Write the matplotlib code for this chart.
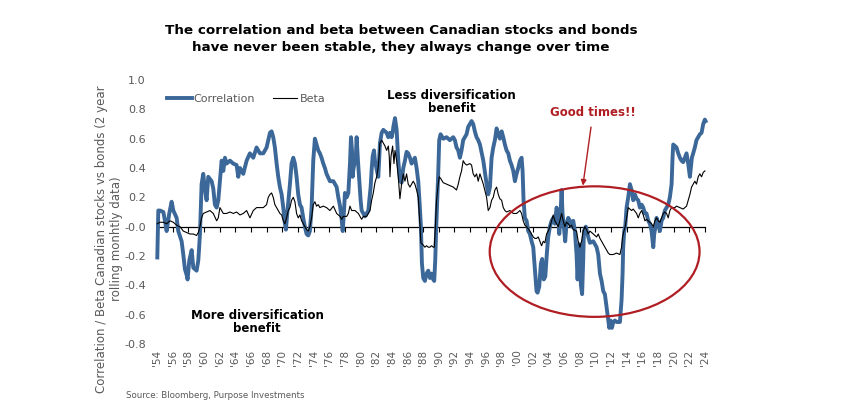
import numpy as np
import matplotlib
matplotlib.use("Agg")
import matplotlib.pyplot as plt
from matplotlib.patches import Ellipse
from matplotlib.lines import Line2D

plt.rcParams['font.family'] = ['DejaVu Sans']

# rolling 2y correlation
corr_year = [
    1954.04, 1954.17, 1954.38, 1954.81, 1955.02, 1955.23, 1955.57, 1955.87, 1956.09, 1956.51,
    1956.72, 1957.15, 1957.36, 1957.57, 1957.79, 1957.91, 1958.13, 1958.43, 1958.64, 1959.06,
    1959.28, 1959.49, 1959.70, 1959.91, 1960.13, 1960.34, 1960.55, 1960.98, 1961.19, 1961.40,
    1961.62, 1961.83, 1962.04, 1962.26, 1962.47, 1962.68, 1962.89, 1963.32, 1963.74, 1964.17,
    1964.38, 1964.60, 1965.02, 1965.45, 1965.87, 1966.30, 1966.72, 1967.15, 1967.58, 1968.00,
    1968.43, 1968.64, 1968.85, 1969.06, 1969.28, 1969.49, 1969.70, 1969.92, 1970.13, 1970.34,
    1970.47, 1970.64, 1970.98, 1971.19, 1971.41, 1971.62, 1971.83, 1972.04, 1972.26, 1972.47,
    1972.68, 1972.89, 1973.11, 1973.32, 1973.53, 1973.75, 1973.96, 1974.17, 1974.38, 1974.60,
    1974.81, 1975.02, 1975.24, 1975.45, 1975.66, 1976.09, 1976.53, 1976.95, 1977.16, 1977.38,
    1977.59, 1977.72, 1977.89, 1978.01, 1978.23, 1978.44, 1978.65, 1978.78, 1978.91, 1978.99,
    1979.08, 1979.29, 1979.42, 1979.50, 1979.67, 1979.84, 1980.01, 1980.14, 1980.36, 1980.57,
    1980.78, 1981.00, 1981.12, 1981.29, 1981.42, 1981.55, 1981.72, 1981.84, 1982.06, 1982.27,
    1982.48, 1982.70, 1982.91, 1983.33, 1983.55, 1983.76, 1983.97, 1984.10, 1984.19, 1984.40,
    1984.61, 1984.82, 1985.03, 1985.24, 1985.46, 1985.67, 1985.88, 1986.09, 1986.31, 1986.52,
    1986.73, 1986.94, 1987.16, 1987.37, 1987.58, 1987.71, 1987.84, 1988.01, 1988.22, 1988.43,
    1988.65, 1988.86, 1989.07, 1989.29, 1989.41, 1989.54, 1989.67, 1989.80, 1989.92, 1990.05,
    1990.22, 1990.56, 1990.99, 1991.41, 1991.63, 1991.84, 1992.05, 1992.26, 1992.48, 1992.69,
    1992.90, 1993.11, 1993.33, 1993.54, 1993.75, 1993.97, 1994.18, 1994.39, 1994.60, 1994.82,
    1995.03, 1995.25, 1995.68, 1996.10, 1996.31, 1996.53, 1996.74, 1996.95, 1997.16, 1997.38,
    1997.59, 1997.80, 1998.02, 1998.23, 1998.44, 1998.65, 1998.87, 1999.08, 1999.29, 1999.51,
    1999.72, 1999.93, 2000.14, 2000.36, 2000.57, 2000.70, 2000.82, 2000.99, 2001.21, 2001.42,
    2001.63, 2001.85, 2002.06, 2002.19, 2002.36, 2002.48, 2002.61, 2002.82, 2003.04, 2003.20,
    2003.40, 2003.60, 2003.80, 2003.97, 2004.19, 2004.40, 2004.61, 2004.82, 2005.04, 2005.25,
    2005.38, 2005.51, 2005.68, 2005.80, 2005.97, 2006.14, 2006.31, 2006.53, 2006.74, 2006.95,
    2007.17, 2007.38, 2007.59, 2007.72, 2007.85, 2007.98, 2008.15, 2008.30, 2008.44, 2008.53,
    2008.78, 2009.08, 2009.30, 2009.73, 2010.15, 2010.36, 2010.58, 2010.79, 2011.00, 2011.21,
    2011.43, 2011.64, 2011.77, 2011.94, 2012.11, 2012.28, 2012.49, 2012.70, 2012.92, 2013.13,
    2013.34, 2013.47, 2013.55, 2013.68, 2013.81, 2013.98, 2014.19, 2014.41, 2014.62, 2014.83,
    2015.04, 2015.26, 2015.47, 2015.68, 2015.90, 2016.11, 2016.32, 2016.53, 2016.75, 2016.96,
    2017.17, 2017.39, 2017.51, 2017.68, 2017.81, 2018.02, 2018.24, 2018.45, 2018.66, 2018.87,
    2019.09, 2019.30, 2019.51, 2019.73, 2019.85, 2019.94, 2020.15, 2020.36, 2020.58, 2020.79,
    2021.00, 2021.21, 2021.43, 2021.64, 2021.85, 2022.07, 2022.19, 2022.32, 2022.49, 2022.70,
    2022.91, 2023.13, 2023.34, 2023.56, 2023.77, 2023.98, 2024.07,
]
corr_value = [
    -0.21, 0.11, 0.11, 0.10, 0.04, -0.03, 0.09, 0.17, 0.11, 0.06,
    -0.03, -0.10, -0.19, -0.29, -0.33, -0.36, -0.23, -0.16, -0.28, -0.30,
    -0.23, -0.05, 0.29, 0.36, 0.25, 0.18, 0.34, 0.31, 0.26, 0.15,
    0.13, 0.18, 0.31, 0.45, 0.38, 0.47, 0.43, 0.45, 0.43, 0.42,
    0.34, 0.40, 0.36, 0.45, 0.50, 0.47, 0.54, 0.50, 0.50, 0.54,
    0.64, 0.65, 0.61, 0.54, 0.43, 0.34, 0.27, 0.22, 0.13, 0.02,
    -0.02, 0.09, 0.29, 0.43, 0.47, 0.43, 0.34, 0.22, 0.15, 0.13,
    0.06, 0.00, -0.05, -0.06, -0.03, 0.13, 0.45, 0.60, 0.56, 0.52,
    0.50, 0.47, 0.43, 0.40, 0.36, 0.31, 0.31, 0.27, 0.20, 0.14,
    0.05, -0.03, 0.11, 0.23, 0.20, 0.23, 0.43, 0.61, 0.52, 0.34,
    0.39, 0.45, 0.50, 0.61, 0.45, 0.32, 0.18, 0.11, 0.09, 0.07,
    0.09, 0.11, 0.18, 0.27, 0.39, 0.48, 0.52, 0.45, 0.39, 0.34,
    0.57, 0.64, 0.66, 0.64, 0.61, 0.64, 0.61, 0.64, 0.68, 0.74,
    0.66, 0.45, 0.32, 0.30, 0.40, 0.45, 0.51, 0.50, 0.47, 0.43,
    0.45, 0.47, 0.40, 0.31, 0.13, 0.00, -0.25, -0.35, -0.37, -0.32,
    -0.30, -0.35, -0.32, -0.36, -0.37, -0.23, 0.00, 0.18, 0.36, 0.59,
    0.63, 0.60, 0.61, 0.59, 0.60, 0.61, 0.59, 0.54, 0.52, 0.47,
    0.52, 0.59, 0.61, 0.63, 0.68, 0.70, 0.72, 0.70, 0.65, 0.61,
    0.59, 0.56, 0.45, 0.29, 0.22, 0.27, 0.47, 0.54, 0.59, 0.67,
    0.63, 0.60, 0.65, 0.61, 0.56, 0.52, 0.50, 0.45, 0.42, 0.38,
    0.31, 0.36, 0.40, 0.45, 0.47, 0.38, 0.18, 0.06, 0.04, -0.03,
    -0.05, -0.10, -0.14, -0.23, -0.35, -0.44, -0.45, -0.41, -0.25, -0.22,
    -0.36, -0.34, -0.18, -0.07, 0.00, 0.04, 0.06, 0.02, 0.13, 0.09,
    -0.05, 0.04, 0.25, 0.09, 0.00, -0.10, 0.02, 0.06, 0.04, 0.00,
    0.04, -0.03, -0.19, -0.36, -0.20, -0.12, -0.40, -0.46, -0.23, -0.03,
    0.00, -0.07, -0.11, -0.10, -0.14, -0.19, -0.32, -0.37, -0.44, -0.46,
    -0.55, -0.64, -0.69, -0.64, -0.69, -0.65, -0.64, -0.65, -0.65, -0.65,
    -0.50, -0.32, -0.14, -0.03, 0.00, 0.13, 0.20, 0.29, 0.25, 0.18,
    0.22, 0.19, 0.18, 0.13, 0.15, 0.13, 0.09, 0.09, 0.04, 0.02,
    -0.03, -0.14, -0.05, 0.00, 0.06, 0.02, -0.03, 0.04, 0.06, 0.11,
    0.13, 0.15, 0.20, 0.29, 0.47, 0.56, 0.55, 0.54, 0.50, 0.47,
    0.45, 0.44, 0.47, 0.50, 0.43, 0.34, 0.40, 0.47, 0.50, 0.54,
    0.59, 0.61, 0.63, 0.64, 0.70, 0.73, 0.72,
]

# rolling 2y beta
beta_year = [
    1954.04, 1954.38, 1954.81, 1955.23, 1955.66, 1956.09, 1956.51, 1956.94, 1957.36, 1957.79,
    1958.21, 1958.64, 1959.06, 1959.28, 1959.49, 1959.70, 1959.91, 1960.34, 1960.77, 1961.19,
    1961.62, 1961.83, 1962.04, 1962.26, 1962.47, 1962.89, 1963.32, 1963.74, 1964.17, 1964.60,
    1965.02, 1965.45, 1965.87, 1966.30, 1966.72, 1967.15, 1967.58, 1968.00, 1968.21, 1968.43,
    1968.64, 1968.85, 1969.06, 1969.28, 1969.49, 1969.70, 1969.92, 1970.13, 1970.34, 1970.55,
    1970.77, 1970.98, 1971.19, 1971.41, 1971.62, 1971.83, 1972.04, 1972.26, 1972.47, 1972.68,
    1972.89, 1973.11, 1973.32, 1973.53, 1973.75, 1973.96, 1974.17, 1974.38, 1974.60, 1974.81,
    1975.24, 1975.66, 1976.09, 1976.53, 1976.95, 1977.38, 1977.59, 1977.80, 1978.23, 1978.44,
    1978.65, 1978.87, 1979.29, 1979.72, 1980.14, 1980.36, 1980.78, 1981.21, 1981.42, 1981.63,
    1981.84, 1982.06, 1982.27, 1982.48, 1982.70, 1982.91, 1983.12, 1983.33, 1983.55, 1983.67,
    1983.76, 1983.89, 1984.10, 1984.27, 1984.40, 1984.61, 1984.82, 1985.03, 1985.24, 1985.46,
    1985.67, 1985.88, 1986.09, 1986.31, 1986.52, 1986.73, 1986.94, 1987.16, 1987.37, 1987.58,
    1987.71, 1987.92, 1988.22, 1988.43, 1988.65, 1988.86, 1989.07, 1989.29, 1989.41, 1989.54,
    1989.71, 1989.92, 1990.05, 1990.22, 1990.56, 1990.99, 1991.41, 1991.84, 1992.05, 1992.26,
    1992.48, 1992.69, 1992.90, 1993.11, 1993.33, 1993.54, 1993.97, 1994.18, 1994.39, 1994.60,
    1994.82, 1995.03, 1995.25, 1995.68, 1996.10, 1996.31, 1996.53, 1996.74, 1996.95, 1997.16,
    1997.38, 1997.59, 1997.80, 1998.02, 1998.23, 1998.44, 1998.65, 1999.08, 1999.51, 1999.93,
    2000.36, 2000.57, 2000.78, 2000.99, 2001.21, 2001.63, 2001.85, 2002.06, 2002.27, 2002.48,
    2002.70, 2002.91, 2003.12, 2003.34, 2003.55, 2003.76, 2003.97, 2004.19, 2004.40, 2004.61,
    2004.82, 2005.04, 2005.25, 2005.46, 2005.68, 2005.89, 2006.10, 2006.31, 2006.53, 2006.74,
    2006.95, 2007.17, 2007.59, 2007.80, 2008.02, 2008.23, 2008.44, 2008.65, 2008.87, 2009.08,
    2009.30, 2009.73, 2010.15, 2010.36, 2010.58, 2010.79, 2011.00, 2011.21, 2011.43, 2011.64,
    2011.85, 2012.28, 2012.70, 2013.13, 2013.34, 2013.47, 2013.64, 2013.81, 2013.98, 2014.19,
    2014.41, 2014.62, 2014.83, 2015.26, 2015.47, 2015.68, 2015.90, 2016.11, 2016.32, 2016.53,
    2016.96, 2017.17, 2017.39, 2017.60, 2017.81, 2018.02, 2018.24, 2018.45, 2018.66, 2018.87,
    2019.09, 2019.30, 2019.51, 2019.73, 2020.15, 2020.36, 2020.79, 2021.21, 2021.43, 2021.64,
    2021.85, 2022.07, 2022.28, 2022.49, 2022.70, 2022.91, 2023.13, 2023.34, 2023.56, 2023.77,
    2023.98,
]
beta_value = [
    0.02, 0.03, 0.03, 0.02, 0.04, 0.03, 0.01, 0.00, -0.03, -0.04,
    -0.05, -0.05, -0.06, -0.04, 0.00, 0.06, 0.09, 0.10, 0.11, 0.09,
    0.04, 0.06, 0.13, 0.11, 0.09, 0.09, 0.10, 0.09, 0.10, 0.08,
    0.09, 0.11, 0.06, 0.11, 0.13, 0.13, 0.13, 0.15, 0.20, 0.22,
    0.23, 0.20, 0.15, 0.13, 0.11, 0.09, 0.08, 0.04, 0.02, 0.06,
    0.11, 0.13, 0.18, 0.20, 0.17, 0.09, 0.06, 0.08, 0.04, 0.02,
    0.00, -0.02, -0.03, 0.00, 0.06, 0.15, 0.17, 0.14, 0.15, 0.13,
    0.14, 0.13, 0.11, 0.14, 0.09, 0.07, 0.05, 0.07, 0.07, 0.09,
    0.14, 0.11, 0.11, 0.09, 0.05, 0.07, 0.07, 0.11, 0.18, 0.23,
    0.30, 0.34, 0.41, 0.57, 0.59, 0.57, 0.55, 0.52, 0.55, 0.48,
    0.34, 0.48, 0.55, 0.43, 0.52, 0.45, 0.34, 0.19, 0.29, 0.36,
    0.31, 0.36, 0.29, 0.27, 0.29, 0.31, 0.29, 0.25, 0.20, 0.02,
    -0.11, -0.12, -0.14, -0.13, -0.14, -0.14, -0.13, -0.14, -0.14, -0.02,
    0.18, 0.29, 0.34, 0.33, 0.30, 0.29, 0.28, 0.27, 0.26, 0.25,
    0.29, 0.34, 0.38, 0.45, 0.43, 0.42, 0.43, 0.42, 0.36, 0.34,
    0.36, 0.31, 0.36, 0.29, 0.20, 0.11, 0.13, 0.18, 0.20, 0.25,
    0.27, 0.22, 0.19, 0.18, 0.13, 0.11, 0.10, 0.11, 0.09, 0.09,
    0.11, 0.09, 0.04, 0.01, 0.00, -0.03, -0.05, -0.07, -0.08, -0.08,
    -0.07, -0.10, -0.13, -0.10, -0.11, -0.05, -0.03, 0.00, 0.04, 0.08,
    0.04, 0.02, 0.00, 0.04, 0.09, 0.04, 0.00, 0.03, 0.02, 0.00,
    0.01, -0.02, -0.03, -0.10, -0.14, -0.10, -0.03, 0.00, -0.02, -0.05,
    -0.03, -0.05, -0.07, -0.05, -0.08, -0.10, -0.12, -0.14, -0.16, -0.18,
    -0.19, -0.19, -0.18, -0.19, -0.14, -0.07, -0.03, 0.00, 0.06, 0.13,
    0.12, 0.11, 0.12, 0.09, 0.06, 0.09, 0.11, 0.08, 0.04, 0.05,
    0.03, 0.02, 0.00, 0.04, 0.06, 0.04, 0.03, 0.06, 0.09, 0.10,
    0.09, 0.06, 0.11, 0.13, 0.13, 0.14, 0.13, 0.12, 0.13, 0.14,
    0.18, 0.22, 0.27, 0.29, 0.31, 0.29, 0.34, 0.36, 0.34, 0.37,
    0.38,
]

tick_years = list(range(1954, 2025, 2))
tick_labels = ["'%02d" % (y % 100) for y in tick_years]

W, H = 852, 409
BLUE = '#3b6898'
RED = '#b01e23'
GREY = '#595959'

fig = plt.figure(figsize=(W / 100, H / 100), dpi=100)
# axes placed in pixel terms: left 151.5, right 710.5, top 80, bottom 344
ax = fig.add_axes([151.5 / W, (H - 344) / H, 559 / W, 264 / H])
ax.set_xlim(1953.3, 2024.7)
ax.set_ylim(-0.8, 1.0)

ax.plot(corr_year, corr_value, color=BLUE, lw=2.8, solid_joinstyle='round', label='Correlation', zorder=2)
ax.plot(beta_year, beta_value, color='black', lw=0.8, label='Beta', zorder=3)

for s in ax.spines.values():
    s.set_visible(False)

ax.set_yticks(np.arange(-0.8, 1.01, 0.2))
ax.set_yticklabels(['%.1f' % v for v in np.arange(-0.8, 1.01, 0.2)])
ax.tick_params(axis='y', length=0, pad=4, labelsize=8, labelcolor=GREY)
ax.set_xticks(tick_years)
ax.set_xticklabels(tick_labels, rotation=90)
ax.tick_params(axis='x', length=0, pad=4, labelsize=7.5, labelcolor=GREY)

# zero line with the tick marks, labels stay at the bottom
zero_pos = 0.8 / 1.8
sec = ax.secondary_xaxis(zero_pos)
sec.set_xticks(tick_years)
sec.tick_params(axis='x', direction='out', length=3.5, width=0.8, labelbottom=False, labeltop=False)
sec.spines['bottom'].set_bounds(1954, 2024)
sec.spines['bottom'].set_linewidth(0.9)

ell = Ellipse((2009.9, -0.17), 26.8, 0.89, fill=False, edgecolor=RED, lw=1.6, zorder=4)
ax.add_patch(ell)

ax.annotate('Good times!!', xy=(2008.4, 0.28), xytext=(2009.7, 0.78),
            ha='center', va='center', fontsize=8.5, fontweight='bold', color=RED,
            arrowprops=dict(arrowstyle='-|>', color=RED, lw=1.0, mutation_scale=8,
                            shrinkA=4, shrinkB=0))

ax.text(1991.6, 0.85, 'Less diversification\nbenefit', ha='center', va='center',
        fontsize=8.5, fontweight='bold', linespacing=1.0)
ax.text(1966.8, -0.65, 'More diversification\nbenefit', ha='center', va='center',
        fontsize=8.5, fontweight='bold', linespacing=1.0)

handles = [Line2D([], [], color=BLUE, lw=2.8), Line2D([], [], color='black', lw=0.8)]
ax.legend(handles, ['Correlation', 'Beta'], loc='upper left', bbox_to_anchor=(0.01, 0.985),
          ncol=2, frameon=False, fontsize=8, labelcolor=GREY, handlelength=2.2,
          handletextpad=0.2, columnspacing=1.6)

fig.text(401 / W, 1 - 39 / H,
         'The correlation and beta between Canadian stocks and bonds\nhave never been stable, they always change over time',
         ha='center', va='center', fontsize=9.7, fontweight='bold', linespacing=1.3)

fig.text(109 / W, 1 - 239 / H,
         'Correlation / Beta Canadian stocks vs bonds (2 year\nrolling monhtly data)',
         ha='center', va='center', rotation=90, fontsize=8.5, color=GREY, linespacing=1.2)

fig.text(126 / W, 1 - 395 / H, 'Source: Bloomberg, Purpose Investments',
         ha='left', va='center', fontsize=6.2, color=GREY)

fig.savefig('out.png', dpi=100)
